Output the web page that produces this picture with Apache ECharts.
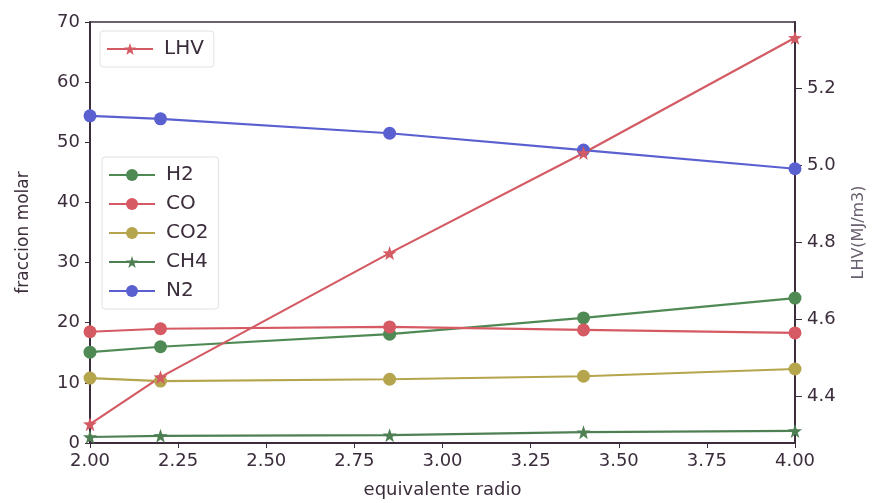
<!DOCTYPE html>
<html>
<head>
<meta charset="utf-8">
<script src="https://cdn.jsdelivr.net/npm/echarts@6/dist/echarts.min.js"></script>
<style>html,body{margin:0;padding:0;background:#fff}#c{width:872px;height:503px}</style>
</head>
<body>
<div id="c"></div>
<script>
var ratio = [2.0, 2.2, 2.85, 3.4, 4.0];
var H2  = [15.1, 16.0, 18.1, 20.8, 24.1];
var CO  = [18.5, 19.0, 19.3, 18.8, 18.3];
var CO2 = [10.8, 10.3, 10.6, 11.1, 12.3];
var CH4 = [1.0, 1.2, 1.3, 1.8, 2.0];
var N2  = [54.4, 53.9, 51.5, 48.7, 45.6];
var LHV = [4.327, 4.449, 4.771, 5.031, 5.33];
var rightTicks = [4.4, 4.6, 4.8, 5.0, 5.2];

function pairs(ys){ return ratio.map(function(x,i){ return [x, ys[i]]; }); }
var txt = '#3b2d3b';
var star = 'path://M0,-10 L2.35,-3.24 L9.51,-3.09 L3.8,1.24 L5.88,8.09 L0,4 L-5.88,8.09 L-3.8,1.24 L-9.51,-3.09 L-2.35,-3.24 Z';
function mk(name, data, color, symbol, yIdx){
  return {name:name, type:'line', data:pairs(data), yAxisIndex:yIdx||0,
    symbol:symbol, symbolSize: symbol==='circle'?13:14, color:color,
    lineStyle:{width:2.2, color:color}, itemStyle:{color:color}, z: 3};
}
var chart = echarts.init(document.getElementById('c'));
var legText = {fontSize:20, color:txt, fontFamily:'DejaVu Sans', padding:[0,0,0,6]};
chart.setOption({
  animation:false,
  backgroundColor:'#fff',
  grid:{left:90, right:77, top:22, bottom:60, show:true, borderColor:txt, borderWidth:1.5, backgroundColor:'transparent',
        containLabel:false, outerBoundsMode:'none'},
  legend:[
    {data:['LHV'], left:100, top:31, orient:'vertical', itemWidth:46, itemHeight:15, itemGap:10,
     padding:[8,10,8,6], borderColor:'#e2e2e2', borderWidth:1, borderRadius:3,
     textStyle:legText},
    {data:['H2','CO','CO2','CH4','N2'], left:102, top:157, orient:'vertical', itemWidth:46, itemHeight:15, itemGap:9,
     padding:[8,10,8,6], borderColor:'#e2e2e2', borderWidth:1, borderRadius:3,
     textStyle:legText}
  ],
  xAxis:{type:'value', min:2, max:4, interval:0.25,
    name:'equivalente radio', nameLocation:'middle', nameGap:38,
    nameTextStyle:{fontSize:18, color:txt, fontFamily:'DejaVu Sans'},
    axisLine:{show:true, lineStyle:{color:txt, width:2}},
    axisTick:{show:true, length:5, lineStyle:{color:txt}},
    axisLabel:{fontSize:18, color:txt, margin:9, fontFamily:'DejaVu Sans', formatter:function(v){return v.toFixed(2);}},
    splitLine:{show:false}},
  yAxis:[
    {type:'value', min:0, max:70, interval:10, position:'left',
     name:'fraccion molar', nameLocation:'middle', nameGap:58, nameRotate:90,
     nameTextStyle:{fontSize:17, color:txt, fontFamily:'DejaVu Sans'},
     axisLine:{show:true, lineStyle:{color:txt, width:2}},
     axisTick:{show:true, length:5, lineStyle:{color:txt}},
     axisLabel:{fontSize:18, color:txt, margin:10, fontFamily:'DejaVu Sans'},
     splitLine:{show:false}},
    {type:'value', min:4.278, max:5.371, position:'right',
     name:'LHV(MJ/m3)', nameLocation:'middle', nameGap:56, nameRotate:90,
     nameTextStyle:{fontSize:16, color:'#6a6070', fontFamily:'DejaVu Sans'},
     axisLine:{show:true, lineStyle:{color:txt, width:2}},
     axisTick:{show:true, length:7, customValues:rightTicks, lineStyle:{color:txt}},
     axisLabel:{fontSize:18, color:txt, margin:12, fontFamily:'DejaVu Sans', customValues:rightTicks,
       formatter:function(v){return (+v).toFixed(1);}},
     splitLine:{show:false}}
  ],
  series:[
    mk('H2', H2, '#4f8a55', 'circle'),
    mk('CO', CO, '#d65a63', 'circle'),
    mk('CO2', CO2, '#b5a54c', 'circle'),
    mk('CH4', CH4, '#4f8054', star),
    mk('N2', N2, '#5a60d0', 'circle'),
    mk('LHV', LHV, '#d45a63', star, 1)
  ]
});
</script>
</body>
</html>
